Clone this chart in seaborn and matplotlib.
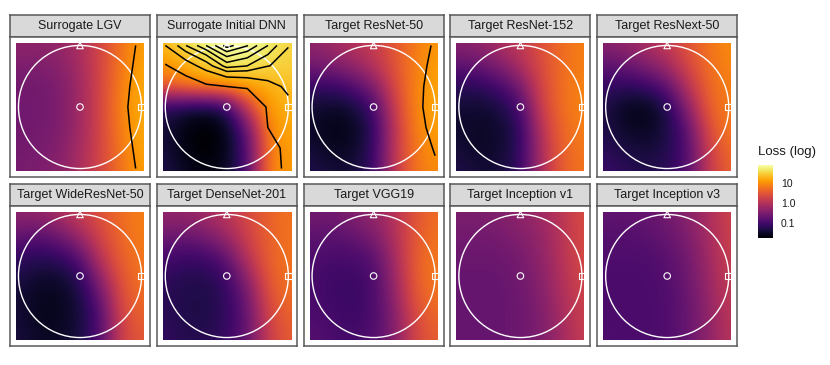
import numpy as np
import pandas as pd
import seaborn as sns
import matplotlib.pyplot as plt
from matplotlib.patches import Circle, Rectangle
from matplotlib.colors import Normalize
from matplotlib.cm import ScalarMappable

# panel titles (facet order)
titles = ["Surrogate LGV", "Surrogate Initial DNN", "Target ResNet-50", "Target ResNet-152",
          "Target ResNext-50", "Target WideResNet-50", "Target DenseNet-201", "Target VGG19",
          "Target Inception v1", "Target Inception v3"]

# grid coordinates (in units of the circle radius), rows listed top -> bottom
grid_x = [-1, -2/3, -1/3, 0, 1/3, 2/3, 1]
grid_y = [1, 2/3, 1/3, 0, -1/3, -2/3, -1]

# log10(loss)
lgv = [[-0.35, -0.35, -0.30, -0.10, 0.30, 0.75, 1.10],
       [-0.50, -0.50, -0.40, -0.15, 0.30, 0.80, 1.15],
       [-0.60, -0.60, -0.50, -0.20, 0.30, 0.85, 1.20],
       [-0.60, -0.60, -0.50, -0.20, 0.30, 0.90, 1.20],
       [-0.60, -0.60, -0.50, -0.20, 0.30, 0.85, 1.20],
       [-0.60, -0.55, -0.45, -0.15, 0.30, 0.80, 1.15],
       [-0.55, -0.50, -0.40, -0.10, 0.30, 0.75, 1.10]]
initial_dnn = [[1.30, 1.60, 1.78, 1.93, 1.85, 1.70, 1.48],
               [0.97, 1.18, 1.40, 1.65, 1.60, 1.48, 1.45],
               [0.60, 0.80, 0.95, 1.00, 1.08, 1.23, 1.34],
               [-1.20, -1.38, -1.45, -1.20, 0.30, 1.07, 1.25],
               [-1.38, -1.63, -1.74, -1.56, -0.65, 1.00, 1.15],
               [-1.38, -1.65, -1.74, -1.60, -0.85, 0.85, 1.10],
               [-1.30, -1.55, -1.65, -1.50, -0.90, 0.90, 1.05]]
resnet50 = [[-0.35, -0.20, 0.00, 0.15, 0.50, 0.80, 1.05],
            [-0.60, -0.50, -0.30, 0.00, 0.45, 0.85, 1.10],
            [-1.10, -1.10, -0.90, -0.50, 0.35, 0.88, 1.15],
            [-1.40, -1.50, -1.40, -1.00, 0.20, 0.90, 1.15],
            [-1.50, -1.60, -1.55, -1.20, 0.10, 0.85, 1.12],
            [-1.40, -1.55, -1.50, -1.15, 0.10, 0.80, 1.03],
            [-1.30, -1.40, -1.40, -1.10, 0.10, 0.75, 0.95]]
resnet152 = [[-0.40, -0.35, -0.10, 0.10, 0.40, 0.70, 0.85],
             [-0.80, -0.70, -0.50, -0.10, 0.35, 0.70, 0.85],
             [-1.20, -1.20, -1.00, -0.60, 0.30, 0.70, 0.90],
             [-1.40, -1.45, -1.35, -1.00, 0.20, 0.70, 0.90],
             [-1.45, -1.50, -1.45, -1.20, 0.00, 0.65, 0.85],
             [-1.40, -1.50, -1.45, -1.20, -0.10, 0.60, 0.80],
             [-1.30, -1.40, -1.40, -1.15, -0.10, 0.55, 0.75]]
resnext50 = [[-0.40, -0.30, -0.10, 0.10, 0.45, 0.75, 0.95],
             [-0.80, -0.70, -0.50, -0.20, 0.30, 0.70, 0.90],
             [-1.10, -1.20, -1.10, -0.80, 0.00, 0.65, 0.85],
             [-1.30, -1.55, -1.60, -1.30, -0.40, 0.55, 0.85],
             [-1.30, -1.50, -1.55, -1.35, -0.80, 0.40, 0.80],
             [-1.20, -1.35, -1.40, -1.30, -0.90, 0.20, 0.70],
             [-1.10, -1.20, -1.30, -1.20, -0.90, 0.10, 0.60]]
wideresnet50 = [[-0.35, -0.30, -0.10, 0.15, 0.45, 0.70, 0.85],
                [-0.70, -0.80, -0.60, -0.20, 0.30, 0.65, 0.85],
                [-1.10, -1.20, -1.10, -0.80, 0.10, 0.60, 0.80],
                [-1.30, -1.45, -1.45, -1.20, -0.30, 0.50, 0.75],
                [-1.40, -1.55, -1.55, -1.35, -0.70, 0.40, 0.70],
                [-1.40, -1.55, -1.55, -1.40, -0.90, 0.30, 0.60],
                [-1.35, -1.50, -1.50, -1.35, -0.90, 0.25, 0.50]]
densenet201 = [[-0.30, -0.30, -0.15, 0.05, 0.35, 0.60, 0.75],
               [-0.60, -0.65, -0.50, -0.20, 0.25, 0.60, 0.75],
               [-0.95, -1.05, -1.00, -0.70, 0.10, 0.60, 0.75],
               [-1.15, -1.25, -1.25, -1.05, -0.30, 0.55, 0.75],
               [-1.20, -1.30, -1.30, -1.15, -0.60, 0.45, 0.70],
               [-1.20, -1.30, -1.30, -1.15, -0.70, 0.30, 0.60],
               [-1.15, -1.25, -1.25, -1.10, -0.70, 0.20, 0.55]]
vgg19 = [[-0.60, -0.60, -0.45, -0.30, 0.00, 0.45, 0.70],
         [-0.75, -0.80, -0.70, -0.50, -0.05, 0.50, 0.75],
         [-0.90, -0.95, -0.95, -0.80, -0.15, 0.55, 0.80],
         [-0.95, -1.05, -1.05, -0.95, -0.25, 0.55, 0.80],
         [-0.95, -1.05, -1.10, -0.95, -0.35, 0.50, 0.75],
         [-0.90, -1.00, -1.05, -0.95, -0.45, 0.35, 0.65],
         [-0.85, -0.95, -1.00, -0.90, -0.45, 0.30, 0.55]]
inception_v1 = [[-0.50, -0.50, -0.45, -0.35, -0.20, 0.05, 0.35],
                [-0.60, -0.60, -0.55, -0.45, -0.30, 0.00, 0.35],
                [-0.65, -0.65, -0.65, -0.55, -0.35, 0.00, 0.35],
                [-0.70, -0.70, -0.70, -0.60, -0.40, -0.05, 0.30],
                [-0.70, -0.70, -0.70, -0.65, -0.45, -0.10, 0.25],
                [-0.70, -0.70, -0.70, -0.65, -0.50, -0.15, 0.20],
                [-0.70, -0.70, -0.70, -0.65, -0.50, -0.20, 0.15]]
inception_v3 = [[-0.75, -0.75, -0.70, -0.60, -0.40, -0.10, 0.25],
                [-0.85, -0.85, -0.80, -0.70, -0.50, -0.15, 0.20],
                [-0.90, -0.90, -0.90, -0.80, -0.60, -0.20, 0.20],
                [-0.95, -0.95, -0.95, -0.85, -0.65, -0.25, 0.15],
                [-0.95, -0.95, -0.95, -0.90, -0.70, -0.30, 0.10],
                [-0.95, -0.95, -0.95, -0.90, -0.70, -0.35, 0.05],
                [-0.90, -0.95, -0.95, -0.90, -0.70, -0.35, 0.00]]

panels = [lgv, initial_dnn, resnet50, resnet152, resnext50,
          wideresnet50, densenet201, vgg19, inception_v1, inception_v3]

# contour levels (linear loss)
contour_levels = [10, 20, 30, 40, 50, 60, 70, 80]

# reference points: centre, top, right
anchor_x = [0, 0, 1]
anchor_y = [0, 1, 0]
anchor_kind = ["centre", "top", "right"]
circle_radius = 1.0

# colour scale limits (log10 loss) and legend ticks
vmin, vmax = -1.74, 1.87
legend_ticks = [-1, 0, 1]
legend_labels = ["0.1", "1.0", "10"]

sns.set_theme(style="white")
plt.rcParams["font.family"] = ["Liberation Sans", "DejaVu Sans"]
cmap = sns.color_palette("inferno", as_cmap=True)
norm = Normalize(vmin=vmin, vmax=vmax)

W, H = 830, 365
fig = plt.figure(figsize=(W / 100, H / 100), dpi=100)


def px_axes(left, top, width, height):
    return fig.add_axes([left / W, 1 - (top + height) / H, width / W, height / H])


border = "#595959"
half = 1.04  # visible raster half-width
lim = 1.1375
step = (grid_x[1] - grid_x[0]) / 2
anchors = pd.DataFrame({"x": anchor_x, "y": anchor_y, "kind": anchor_kind})

for i, (title, z) in enumerate(zip(titles, panels)):
    r, c = divmod(i, 5)
    left = 10 + c * 146.8
    strip_top = 15 if r == 0 else 184
    # strip
    sax = px_axes(left, strip_top, 140, 22)
    sax.set_facecolor("#d9d9d9")
    sax.set_xticks([]); sax.set_yticks([])
    for s in sax.spines.values():
        s.set_color(border); s.set_linewidth(1.1)
    sax.text(0.5, 0.5, title, ha="center", va="center", fontsize=9, color="#1a1a1a",
             transform=sax.transAxes)
    # panel
    ax = px_axes(left, strip_top + 22, 140, 140)
    ax.set_facecolor("white")
    z = np.array(z)
    im = ax.imshow(z, cmap=cmap, norm=norm, interpolation="bicubic",
                   extent=(grid_x[0] - step, grid_x[-1] + step, grid_y[-1] - step, grid_y[0] + step))
    clip = Rectangle((-half, -half), 2 * half, 2 * half, transform=ax.transData, fill=False)
    im.set_clip_path(clip)
    levels = np.log10(contour_levels)
    if z.max() >= levels[0]:
        ax.contour(grid_x, grid_y, z, levels=levels, colors="black", linewidths=1.1)
    ax.add_patch(Circle((0, 0), circle_radius, fill=False, edgecolor="white", linewidth=1.0))
    sns.scatterplot(data=anchors, x="x", y="y", style="kind",
                    markers={"centre": "o", "top": "^", "right": "s"},
                    facecolor="none", edgecolor="white", linewidth=0.8, s=22,
                    legend=False, ax=ax, zorder=5)
    ax.set_xlim(-lim, lim); ax.set_ylim(-lim, lim)
    ax.set_aspect("auto")
    ax.set_xticks([]); ax.set_yticks([])
    ax.set_xlabel(""); ax.set_ylabel("")
    for s in ax.spines.values():
        s.set_color(border); s.set_linewidth(1.1)

# colour legend
cax = px_axes(757.5, 165, 15, 73)
sm = ScalarMappable(norm=norm, cmap=cmap)
cb = fig.colorbar(sm, cax=cax, ticks=legend_ticks)
cb.set_ticklabels(legend_labels)
cb.outline.set_visible(False)
cax.tick_params(axis="y", direction="in", length=3, width=0.6, color="white",
                labelsize=7.5, pad=6, right=True, left=True, labelcolor="#1a1a1a")
fig.text(757.5 / W, 1 - 152 / H, "Loss (log)", fontsize=9.5, va="center", ha="left",
         color="#1a1a1a")

fig.savefig("out.png", dpi=100)
